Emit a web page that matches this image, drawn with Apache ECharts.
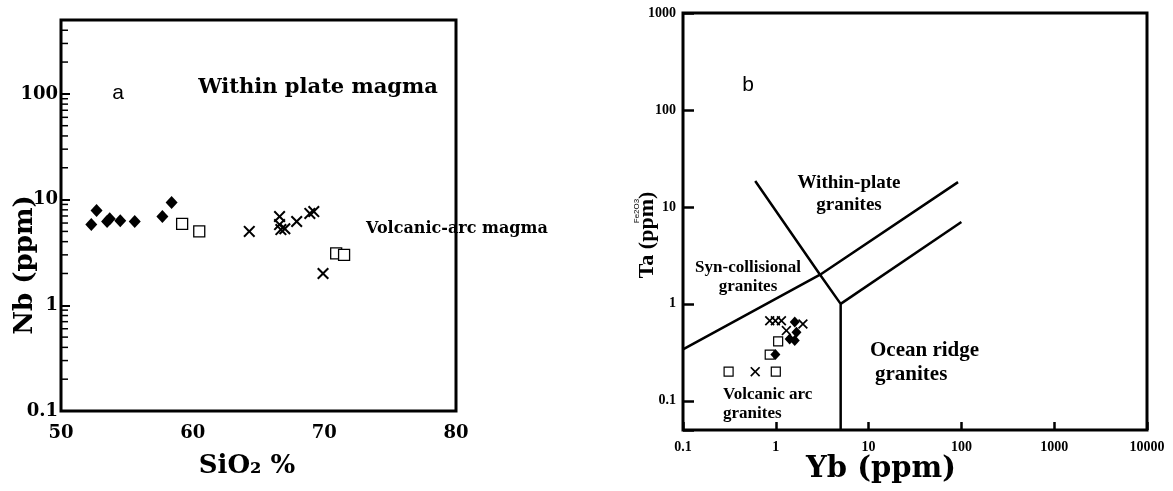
<!DOCTYPE html>
<html>
<head>
<meta charset="utf-8">
<script src="https://cdn.jsdelivr.net/npm/echarts@6/dist/echarts.min.js"></script>
<style>html,body{margin:0;padding:0;background:#fff;}#c{width:1173px;height:491px;}</style>
</head>
<body>
<div id="c"></div>
<script>
// ---- Panel a: SiO2 (%) vs Nb (ppm) ----
const aDiamondSiO2 = [52.3, 52.7, 53.5, 53.7, 54.5, 55.6, 57.7, 58.4];
const aDiamondNb   = [5.8, 7.9, 6.2, 6.6, 6.3, 6.2, 6.9, 9.4];
const aSquareSiO2  = [59.2, 60.5, 70.9, 71.5];
const aSquareNb    = [5.9, 5.0, 3.1, 3.0];
const aCrossSiO2   = [64.3, 66.6, 66.6, 66.7, 67.0, 67.9, 68.9, 69.2, 69.9];
const aCrossNb     = [5.0, 6.9, 5.8, 5.2, 5.3, 6.2, 7.4, 7.7, 2.0];
const aXTicks = ['50', '60', '70', '80'];
const aYTicks = ['0.1', '1', '10', '100'];
const aYMinor = [0.2,0.3,0.4,0.5,0.6,0.7,0.8,0.9,2,3,4,5,6,7,8,9,20,30,40,50,60,70,80,90,200,300,400];

// ---- Panel b: Yb (ppm) vs Ta (ppm) ----
const bCrossYb   = [0.86, 0.99, 1.15, 1.96, 1.30, 0.60];
const bCrossTa   = [0.67, 0.67, 0.67, 0.62, 0.53, 0.20];
const bDiamondYb = [1.60, 1.67, 1.41, 1.60, 0.99];
const bDiamondTa = [0.65, 0.51, 0.435, 0.42, 0.30];
const bSquareYb  = [1.06, 0.86, 0.31, 1.00];
const bSquareTa  = [0.41, 0.30, 0.20, 0.20];
// boundary lines
const bSynVagYb = [0.1, 3, 92];
const bSynVagTa = [0.34, 2, 18];
const bWpgYb    = [0.6, 3, 5, 5];
const bWpgTa    = [18.5, 2, 1, 0.05];
const bOrgYb    = [5, 100];
const bOrgTa    = [1, 7];
const bXTicks = ['0.1', '1', '10', '100', '1000', '10000'];
const bYTicks = ['0.1', '1', '10', '100', '1000'];

const zip = (xs, ys) => xs.map((x, i) => [x, ys[i]]);
const logFmt = (labels, minExp) => v => {
  const l = Math.log10(v), e = Math.round(l);
  if (Math.abs(l - e) > 1e-6) return '';
  return labels[e - minExp] || '';
};
const crossPath = 'path://M0,1.2 L1.2,0 L5,3.8 L8.8,0 L10,1.2 L6.2,5 L10,8.8 L8.8,10 L5,6.2 L1.2,10 L0,8.8 L3.8,5 Z';
const serifA = '"DejaVu Serif"';
const serifB = '"Liberation Serif"';

const chart = echarts.init(document.getElementById('c'), null, {renderer: 'canvas'});
chart.setOption({
  animation: false,
  grid: [
    {left: 61, top: 20, width: 395, height: 391, show: true, borderColor: '#000', borderWidth: 3, backgroundColor: 'transparent'},
    {left: 683, top: 13, width: 464, height: 417, show: true, borderColor: '#000', borderWidth: 3, backgroundColor: 'transparent'}
  ],
  xAxis: [
    {gridIndex: 0, type: 'value', min: 50, max: 80, interval: 10,
     axisLine: {show: false}, axisTick: {show: false}, splitLine: {show: false},
     axisLabel: {margin: 13, color: '#000', fontFamily: serifA, fontWeight: 'bold', fontSize: 18,
       formatter: v => aXTicks[Math.round((v - 50) / 10)] || ''}},
    {gridIndex: 1, type: 'log', logBase: 10, min: 0.1, max: 10000,
     axisLine: {show: false}, splitLine: {show: false},
     axisTick: {show: true, inside: true, length: 8, lineStyle: {color: '#000', width: 2.5}},
     axisLabel: {margin: 10, color: '#000', fontFamily: serifB, fontWeight: 'bold', fontSize: 14,
       formatter: logFmt(bXTicks, -1)}}
  ],
  yAxis: [
    {gridIndex: 0, type: 'log', logBase: 10, min: 0.1, max: 500,
     axisLine: {show: false}, splitLine: {show: false},
     axisTick: {show: true, inside: true, length: 9, lineStyle: {color: '#000', width: 2}},
     axisLabel: {margin: 3, color: '#000', fontFamily: serifA, fontWeight: 'bold', fontSize: 18,
       formatter: logFmt(aYTicks, -1)}},
    {gridIndex: 1, type: 'log', logBase: 10, min: 0.05, max: 1000,
     axisLine: {show: false}, splitLine: {show: false},
     axisTick: {show: true, inside: true, length: 11, lineStyle: {color: '#000', width: 2.5}},
     axisLabel: {margin: 7, color: '#000', fontFamily: serifB, fontWeight: 'bold', fontSize: 14,
       formatter: logFmt(bYTicks, -1)}}
  ],
  series: [
    // minor log ticks on panel a y axis
    {type: 'custom', xAxisIndex: 0, yAxisIndex: 0, silent: true,
     data: aYMinor.map(v => [50, v]),
     renderItem: (params, api) => {
       const p = api.coord([api.value(0), api.value(1)]);
       return {type: 'line', shape: {x1: p[0], y1: p[1], x2: p[0] + 7, y2: p[1]},
               style: {stroke: '#000', lineWidth: 1.5}};
     }},
    {type: 'scatter', xAxisIndex: 0, yAxisIndex: 0, data: zip(aDiamondSiO2, aDiamondNb),
     symbol: 'diamond', symbolSize: [12, 13], itemStyle: {color: '#000', opacity: 1}},
    {type: 'scatter', xAxisIndex: 0, yAxisIndex: 0, data: zip(aSquareSiO2, aSquareNb),
     symbol: 'rect', symbolSize: 11, itemStyle: {color: '#fff', borderColor: '#000', borderWidth: 1.3, opacity: 1}},
    {type: 'scatter', xAxisIndex: 0, yAxisIndex: 0, data: zip(aCrossSiO2, aCrossNb),
     symbol: crossPath, symbolSize: 12, itemStyle: {color: '#000', opacity: 1}},
    // panel b boundaries
    {type: 'line', xAxisIndex: 1, yAxisIndex: 1, data: zip(bSynVagYb, bSynVagTa), symbol: 'none',
     lineStyle: {color: '#000', width: 2.5}},
    {type: 'line', xAxisIndex: 1, yAxisIndex: 1, data: zip(bWpgYb, bWpgTa), symbol: 'none',
     lineStyle: {color: '#000', width: 2.5}},
    {type: 'line', xAxisIndex: 1, yAxisIndex: 1, data: zip(bOrgYb, bOrgTa), symbol: 'none',
     lineStyle: {color: '#000', width: 2.5}},
    // panel b samples
    {type: 'scatter', xAxisIndex: 1, yAxisIndex: 1, data: zip(bSquareYb, bSquareTa),
     symbol: 'rect', symbolSize: 9, itemStyle: {color: '#fff', borderColor: '#000', borderWidth: 1.2, opacity: 1}},
    {type: 'scatter', xAxisIndex: 1, yAxisIndex: 1, data: zip(bCrossYb, bCrossTa),
     symbol: crossPath, symbolSize: 10, itemStyle: {color: '#000', opacity: 1}},
    {type: 'scatter', xAxisIndex: 1, yAxisIndex: 1, data: zip(bDiamondYb, bDiamondTa),
     symbol: 'diamond', symbolSize: [10, 11], itemStyle: {color: '#000', opacity: 1}}
  ],
  graphic: [
    // panel a texts
    {type: 'text', x: 118, y: 93, style: {text: 'a', fill: '#000', font: '21px "Liberation Sans"', align: 'center', verticalAlign: 'middle'}},
    {type: 'text', x: 318, y: 88, style: {text: 'Within plate magma', fill: '#000', font: 'bold 21px ' + serifA, align: 'center', verticalAlign: 'middle'}},
    {type: 'text', x: 366, y: 229, style: {text: 'Volcanic-arc magma', fill: '#000', font: 'bold 16px ' + serifA, align: 'left', verticalAlign: 'middle'}},
    {type: 'text', x: 25, y: 265, rotation: Math.PI / 2, style: {text: 'Nb (ppm)', fill: '#000', font: 'bold 26px ' + serifA, align: 'center', verticalAlign: 'middle'}},
    {type: 'text', x: 247, y: 466, style: {text: 'SiO₂ %', fill: '#000', font: 'bold 26px ' + serifA, align: 'center', verticalAlign: 'middle'}},
    // panel b texts
    {type: 'text', x: 748, y: 85, style: {text: 'b', fill: '#000', font: '21px "Liberation Sans"', align: 'center', verticalAlign: 'middle'}},
    {type: 'text', x: 849, y: 194, style: {text: 'Within-plate\ngranites', fill: '#000', font: 'bold 19px ' + serifB, lineHeight: 22, align: 'center', verticalAlign: 'middle'}},
    {type: 'text', x: 748, y: 277, style: {text: 'Syn-collisional\ngranites', fill: '#000', font: 'bold 17px ' + serifB, lineHeight: 19, align: 'center', verticalAlign: 'middle'}},
    {type: 'text', x: 870, y: 351, style: {text: 'Ocean ridge', fill: '#000', font: 'bold 21px ' + serifB, align: 'left', verticalAlign: 'middle'}},
    {type: 'text', x: 875, y: 375, style: {text: 'granites', fill: '#000', font: 'bold 21px ' + serifB, align: 'left', verticalAlign: 'middle'}},
    {type: 'text', x: 723, y: 395, style: {text: 'Volcanic arc', fill: '#000', font: 'bold 17px ' + serifB, align: 'left', verticalAlign: 'middle'}},
    {type: 'text', x: 723, y: 414, style: {text: 'granites', fill: '#000', font: 'bold 17px ' + serifB, align: 'left', verticalAlign: 'middle'}},
    {type: 'text', x: 881, y: 469, style: {text: 'Yb (ppm)', fill: '#000', font: 'bold 29px ' + serifA, align: 'center', verticalAlign: 'middle'}},
    {type: 'text', x: 647, y: 235, rotation: Math.PI / 2, style: {text: 'Ta (ppm)', fill: '#000', font: 'bold 22px ' + serifB, align: 'center', verticalAlign: 'middle'}},
    {type: 'text', x: 637, y: 211, rotation: Math.PI / 2, style: {text: 'Fe2O3', fill: '#000', font: '8px "Liberation Sans"', align: 'center', verticalAlign: 'middle'}}
  ]
});
</script>
</body>
</html>
